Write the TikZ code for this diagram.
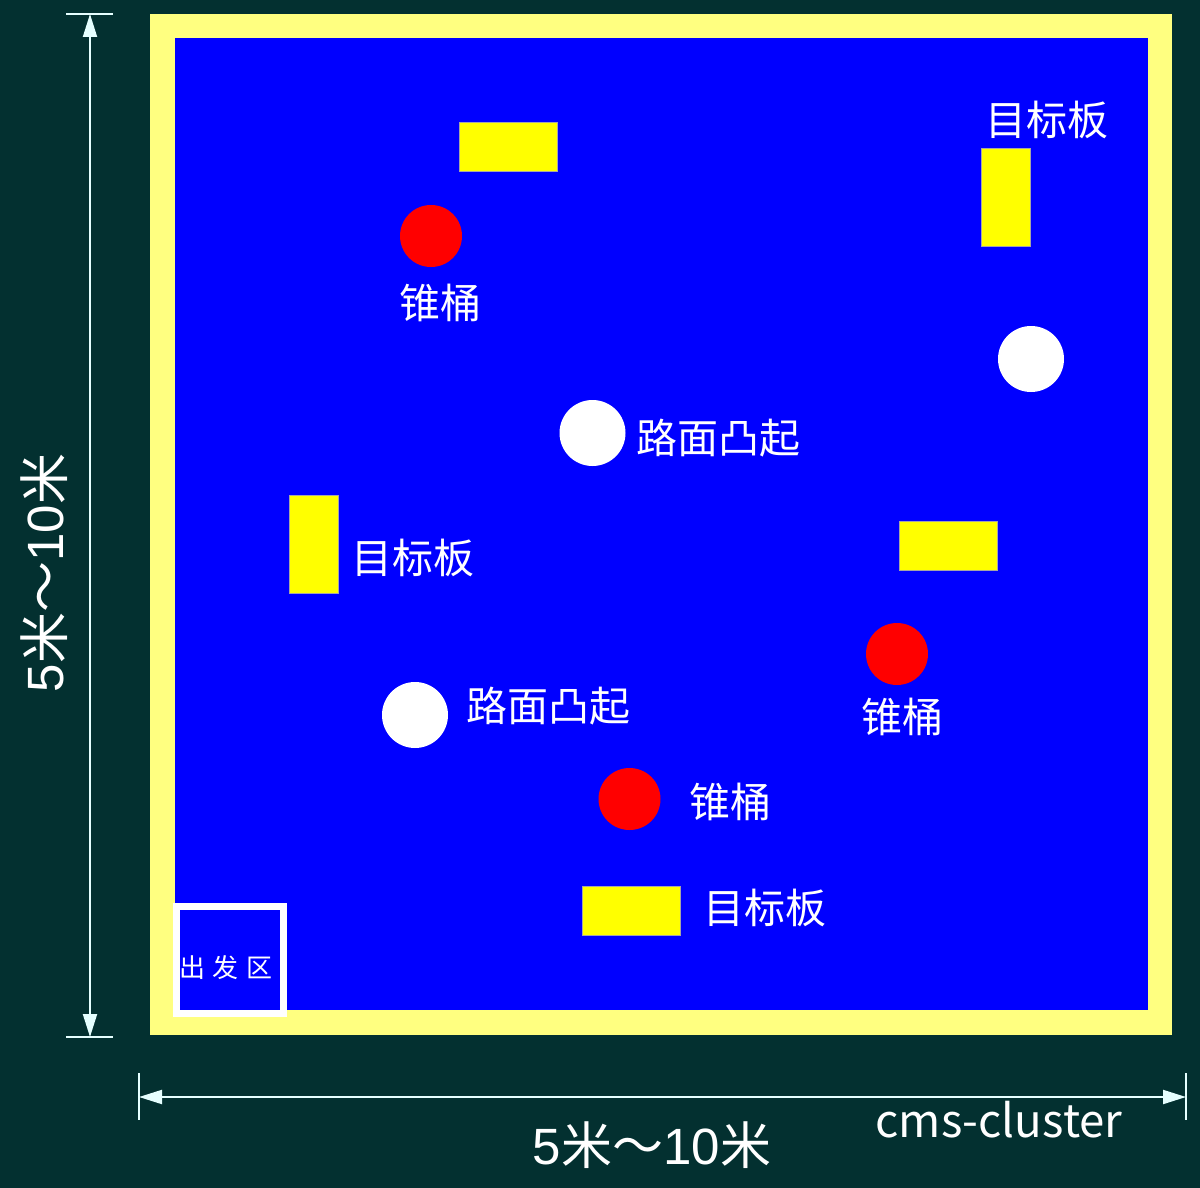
\documentclass[tikz,border=0pt]{standalone}
\usepackage{fontspec}
\setmainfont{Noto Sans CJK SC}
\newfontfamily\lib{Liberation Sans}
\usetikzlibrary{arrows.meta}
\definecolor{bg}{RGB}{3,48,48}
\definecolor{rim}{RGB}{255,255,128}
\definecolor{field}{RGB}{0,0,255}
\definecolor{board}{RGB}{255,255,0}
\definecolor{cone}{RGB}{255,0,0}
\definecolor{dimc}{RGB}{230,255,255}
\tikzset{
  hboard/.style={draw=gray!70,line width=0.5pt,fill=board,minimum width=49pt,minimum height=24.5pt,inner sep=0pt},
  vboard/.style={draw=gray!70,line width=0.5pt,fill=board,minimum width=24.5pt,minimum height=49pt,inner sep=0pt},
  conec/.style={circle,fill=cone,minimum size=31pt,inner sep=0pt},
  bump/.style={circle,fill=white,minimum size=33pt,inner sep=0pt},
  lbl/.style={text=white,inner sep=0pt,font=\fontsize{20.5}{24}\selectfont},
  dimline/.style={draw=dimc,line width=1pt},
  dimarrow/.style={dimline,{Triangle[length=11.5pt,width=7pt]}-{Triangle[length=11.5pt,width=7pt]}},
  dimtext/.style={text=white,inner sep=0pt,font=\fontsize{25.5}{28}\selectfont}
}
\begin{document}
\begin{tikzpicture}[x=0.5pt,y=-0.5pt]
\useasboundingbox (0,0) rectangle (1200,1188);
\fill[bg] (0,0) rectangle (1200,1188);
% field
\fill[rim] (150,14) rectangle (1172,1035);
\fill[field] (175,38) rectangle (1148,1010);
% start zone
\draw[white,line width=3.5pt,fill=field] (176,906) rectangle (283,1013);
\node[text=white,inner sep=0pt,font=\fontsize{13}{15}\selectfont] (start) at (226,968) {出\hspace{4pt}发\hspace{4pt}区};
% target boards
\node[hboard] (b1) at (508,147) {};
\node[vboard] (b2) at (1005.5,197.5) {};
\node[vboard] (b3) at (313.5,544) {};
\node[hboard] (b4) at (948,545.5) {};
\node[hboard] (b5) at (631,911) {};
% cones
\node[conec] (c1) at (431,236) {};
\node[conec] (c2) at (897,654) {};
\node[conec] (c3) at (629.5,799) {};
% bumps
\node[bump] (u1) at (1031,359) {};
\node[bump] (u2) at (592.5,433) {};
\node[bump] (u3) at (415,715) {};
% labels
\node[lbl] (tb1) at (1047,120) {目标板};
\node[lbl] (tb2) at (413,558) {目标板};
\node[lbl] (tb3) at (765,908) {目标板};
\node[lbl] (tc1) at (440,303) {锥桶};
\node[lbl] (tc2) at (902,717) {锥桶};
\node[lbl] (tc3) at (730,802) {锥桶};
\node[lbl] (tu1) at (718,438) {路面凸起};
\node[lbl] (tu2) at (548,706) {路面凸起};
% vertical dimension
\coordinate (vt) at (90,14);
\coordinate (vb) at (90,1037);
\draw[dimline] (66,14) -- (113,14);
\draw[dimline] (66,1037) -- (113,1037);
\draw[dimarrow] (vt) -- (vb);
\node[dimtext,rotate=90] (vtext) at (44,573) {{\lib 5}米～{\lib 10}米};
% horizontal dimension
\coordinate (hl) at (139,1097);
\coordinate (hr) at (1186,1097);
\draw[dimline] (139,1073) -- (139,1120);
\draw[dimline] (1186,1073) -- (1186,1120);
\draw[dimarrow] (hl) -- (hr);
\node[dimtext] (htext) at (652,1145) {{\lib 5}米～{\lib 10}米};
\node[text=white,inner sep=0pt,font=\fontsize{22.8}{26}\selectfont] (wm) at (999,1120) {cms-cluster};
\end{tikzpicture}
\end{document}
